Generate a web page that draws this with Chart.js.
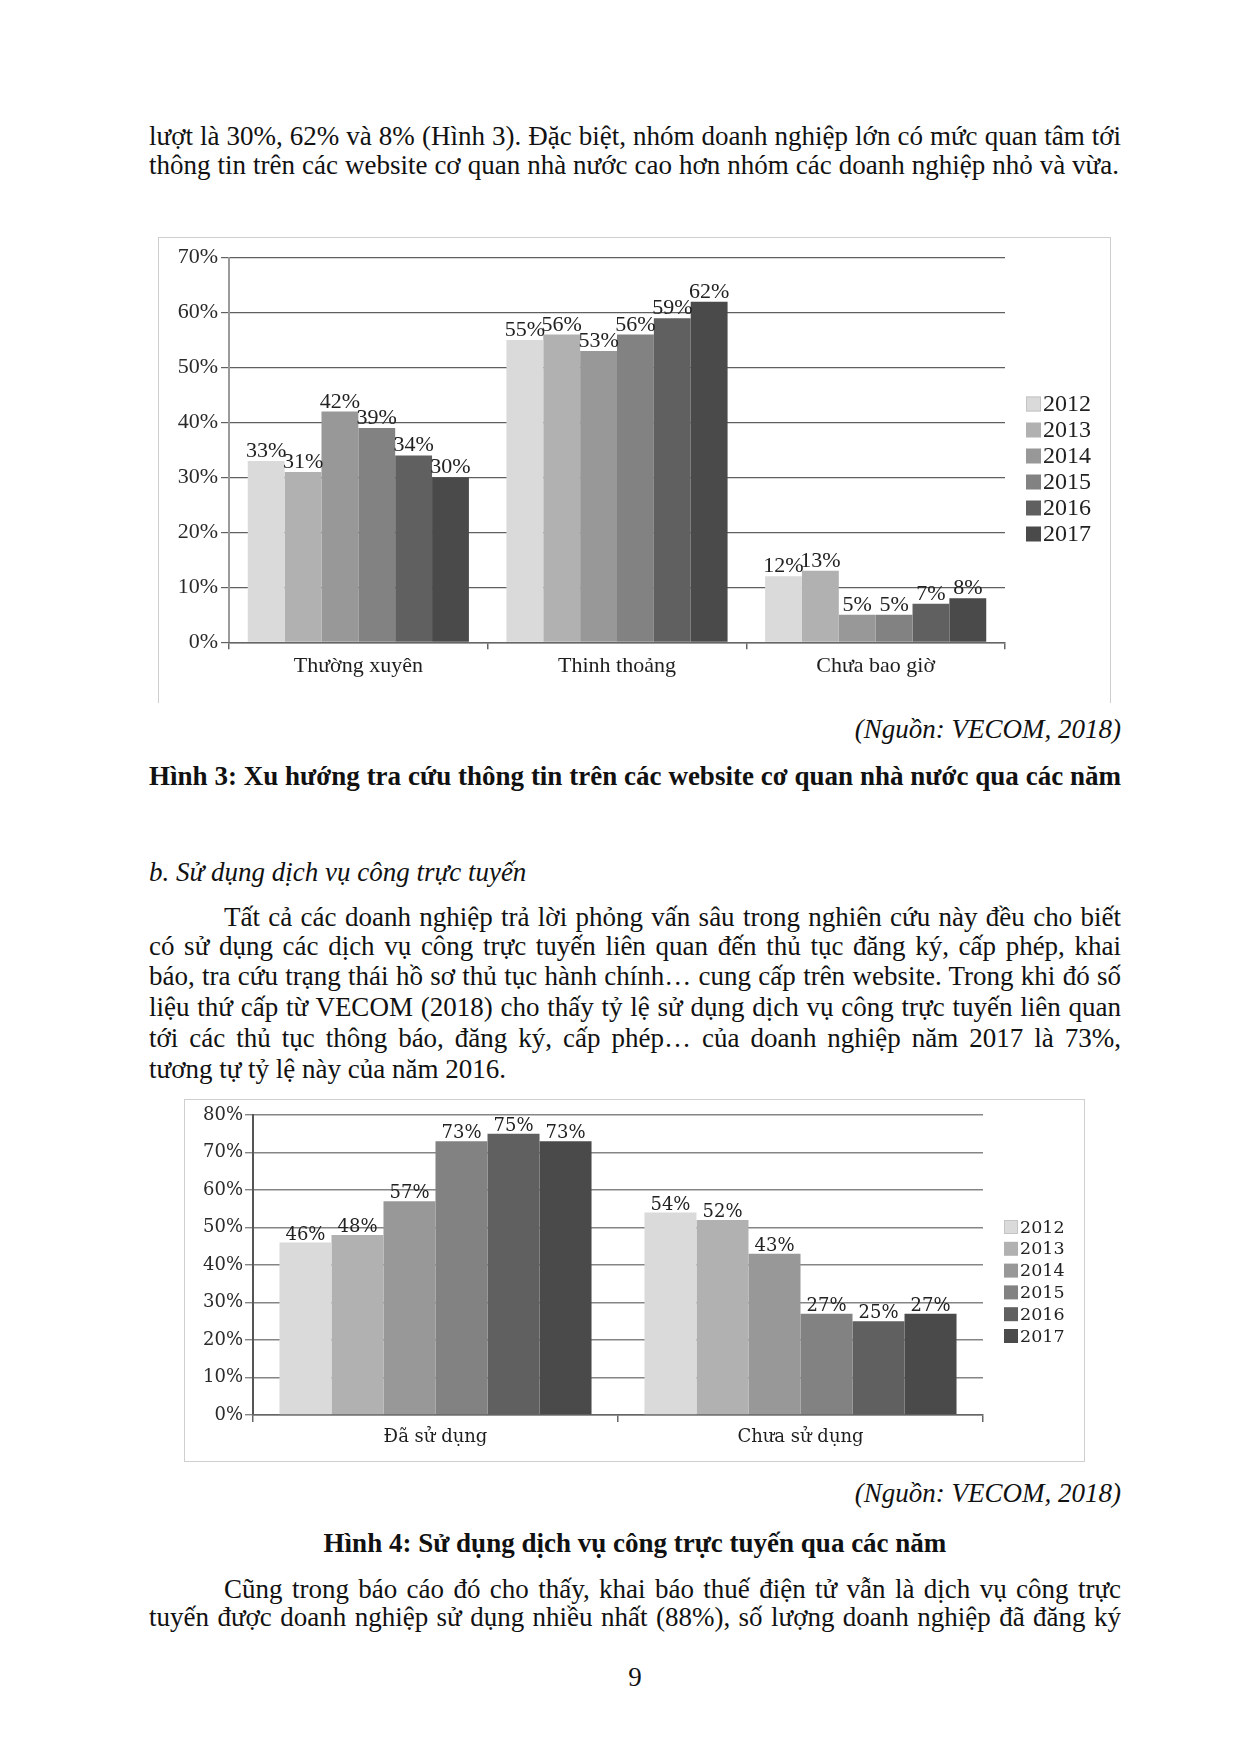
<!DOCTYPE html>
<html><head><meta charset="utf-8">
<script src="https://cdn.jsdelivr.net/npm/chart.js@4.4.0/dist/chart.umd.min.js"></script>
<style>
html,body{margin:0;padding:0;background:#fff;}
body{width:1240px;height:1753px;position:relative;overflow:hidden;font-family:"Liberation Serif","Times New Roman",serif;color:#111;}
.ln{position:absolute;height:32px;line-height:32px;font-size:27px;overflow:hidden;white-space:normal;}
.j{text-align:justify;text-align-last:justify;}
.frame{position:absolute;box-sizing:border-box;}
.cw{position:absolute;}
</style>
</head><body>

<div class="ln j" style="left:149px;width:972px;top:120px;">lượt là 30%, 62% và 8% (Hình 3). Đặc biệt, nhóm doanh nghiệp lớn có mức quan tâm tới</div>
<div class="ln j" style="left:149px;width:970px;top:149px;">thông tin trên các website cơ quan nhà nước cao hơn nhóm các doanh nghiệp nhỏ và vừa.</div>

<div class="frame" style="left:158px;top:237px;width:953px;height:466px;border:1.5px solid #cfcfcf;border-bottom:none;"></div>
<div class="cw" style="left:158px;top:237px;width:953px;height:463px;"><canvas id="c1"></canvas></div>

<div class="ln" style="right:119px;top:713px;font-style:italic;">(Nguồn: VECOM, 2018)</div>
<div class="ln j" style="left:149px;width:972px;top:760px;font-weight:bold;">Hình 3: Xu hướng tra cứu thông tin trên các website cơ quan nhà nước qua các năm</div>

<div class="ln" style="left:149px;top:856px;font-style:italic;">b. Sử dụng dịch vụ công trực tuyến</div>
<div class="ln j" style="left:224px;width:897px;top:901px;">Tất cả các doanh nghiệp trả lời phỏng vấn sâu trong nghiên cứu này đều cho biết</div>
<div class="ln j" style="left:149px;width:972px;top:930px;">có sử dụng các dịch vụ công trực tuyến liên quan đến thủ tục đăng ký, cấp phép, khai</div>
<div class="ln j" style="left:149px;width:972px;top:960px;">báo, tra cứu trạng thái hồ sơ thủ tục hành chính… cung cấp trên website. Trong khi đó số</div>
<div class="ln j" style="left:149px;width:972px;top:991px;">liệu thứ cấp từ VECOM (2018) cho thấy tỷ lệ sử dụng dịch vụ công trực tuyến liên quan</div>
<div class="ln j" style="left:149px;width:972px;top:1022px;">tới các thủ tục thông báo, đăng ký, cấp phép… của doanh nghiệp năm 2017 là 73%,</div>
<div class="ln" style="left:149px;top:1053px;">tương tự tỷ lệ này của năm 2016.</div>

<div class="frame" style="left:184px;top:1099px;width:901px;height:363px;border:1.5px solid #cfcfcf;"></div>
<div class="cw" style="left:184px;top:1099px;width:901px;height:362px;"><canvas id="c2"></canvas></div>

<div class="ln" style="right:119px;top:1477px;font-style:italic;">(Nguồn: VECOM, 2018)</div>
<div class="ln" style="left:149px;width:972px;top:1527px;font-weight:bold;text-align:center;">Hình 4: Sử dụng dịch vụ công trực tuyến qua các năm</div>
<div class="ln j" style="left:224px;width:897px;top:1573px;">Cũng trong báo cáo đó cho thấy, khai báo thuế điện tử vẫn là dịch vụ công trực</div>
<div class="ln j" style="left:149px;width:972px;top:1601px;">tuyến được doanh nghiệp sử dụng nhiều nhất (88%), số lượng doanh nghiệp đã đăng ký</div>
<div class="ln" style="left:149px;width:972px;top:1661px;text-align:center;">9</div>

<script>
// ---------- Data ----------
const years = ['2012', '2013', '2014', '2015', '2016', '2017'];
const barColors = ['#dadada', '#b1b1b1', '#989898', '#828282', '#606060', '#4a4a4a'];

// Figure 3
const categories1 = ['Thường xuyên', 'Thinh thoảng', 'Chưa bao giờ'];
const fig3_2012 = [33, 55, 12];
const fig3_2013 = [31, 56, 13];
const fig3_2014 = [42, 53, 5];
const fig3_2015 = [39, 56, 5];
const fig3_2016 = [34, 59, 7];
const fig3_2017 = [30, 62, 8];
const yTicks1 = [0, 10, 20, 30, 40, 50, 60, 70];

// Figure 4
const categories2 = ['Đã sử dụng', 'Chưa sử dụng'];
const fig4_2012 = [46, 54];
const fig4_2013 = [48, 52];
const fig4_2014 = [57, 43];
const fig4_2015 = [73, 27];
const fig4_2016 = [75, 25];
const fig4_2017 = [73, 27];
const yTicks2 = [0, 10, 20, 30, 40, 50, 60, 70, 80];

const fig3Series = [fig3_2012, fig3_2013, fig3_2014, fig3_2015, fig3_2016, fig3_2017];
const fig4Series = [fig4_2012, fig4_2013, fig4_2014, fig4_2015, fig4_2016, fig4_2017];

// ---------- Plugins ----------
const valLabels = {
  id: 'valLabels',
  afterDatasetsDraw(chart, args, opts) {
    const ctx = chart.ctx;
    ctx.save();
    ctx.font = opts.font;
    ctx.fillStyle = opts.color || '#222';
    ctx.textAlign = 'center';
    ctx.textBaseline = 'alphabetic';
    chart.data.datasets.forEach((ds, di) => {
      const meta = chart.getDatasetMeta(di);
      meta.data.forEach((el, i) => {
        ctx.fillText(ds.data[i] + '%', el.x, el.y - opts.offset);
      });
    });
    ctx.restore();
  }
};
const sideLegend = {
  id: 'sideLegend',
  afterDraw(chart, args, opts) {
    const ctx = chart.ctx;
    const ca = chart.chartArea;
    ctx.save();
    ctx.font = opts.font;
    ctx.textBaseline = 'middle';
    ctx.textAlign = 'left';
    chart.data.datasets.forEach((ds, i) => {
      const cy = opts.y0 + i * opts.gap;
      const bx = ca.right + opts.dx;
      ctx.fillStyle = ds.backgroundColor;
      ctx.fillRect(bx, cy - opts.box / 2, opts.box, opts.box);
      if (i === 0) {
        ctx.strokeStyle = '#c4c4c4';
        ctx.lineWidth = 1;
        ctx.strokeRect(bx + 0.5, cy - opts.box / 2 + 0.5, opts.box - 1, opts.box - 1);
      }
      ctx.fillStyle = '#222';
      ctx.fillText(ds.label, bx + opts.textDx, cy + 1);
    });
    ctx.restore();
  }
};

function makeChart(id, cats, series, yt, cfg) {
  const datasets = series.map((s, i) => ({
    label: years[i],
    data: s,
    backgroundColor: barColors[i],
    borderWidth: 0,
    barPercentage: 1.0,
    categoryPercentage: 0.855
  }));
  return new Chart(document.getElementById(id), {
    type: 'bar',
    data: { labels: cats, datasets },
    plugins: [valLabels, sideLegend],
    options: {
      responsive: true,
      maintainAspectRatio: false,
      animation: false,
      events: [],
      layout: { padding: { top: cfg.padTop, right: cfg.padRight, bottom: 0, left: 0 } },
      plugins: {
        legend: { display: false },
        tooltip: { enabled: false },
        valLabels: { font: cfg.labelFont, offset: cfg.labelOffset, color: '#222' },
        sideLegend: cfg.legend
      },
      scales: {
        y: {
          min: yt[0], max: yt[yt.length - 1],
          afterBuildTicks: (s) => { s.ticks = yt.map(v => ({ value: v })); },
          afterFit: (s) => { s.width = cfg.yWidth; },
          ticks: {
            callback: (v) => v + '%',
            font: { family: cfg.family, size: cfg.tickSize },
            color: '#2a2a2a',
            padding: cfg.tickPad
          },
          grid: { color: cfg.gridColor, lineWidth: cfg.gridWidth, tickLength: 8, drawTicks: true },
          border: { color: cfg.yAxisColor, width: 2 }
        },
        x: {
          afterFit: (s) => { s.height = cfg.xHeight; },
          ticks: {
            font: { family: cfg.family, size: cfg.catSize },
            color: '#1e1e1e',
            padding: cfg.catPad
          },
          grid: { drawOnChartArea: false, drawTicks: true, tickLength: 7, color: '#666', lineWidth: 1.5 },
          border: { color: '#666', width: 1.5 }
        }
      }
    }
  });
}

makeChart('c1', categories1, fig3Series, yTicks1, {
  padTop: 20.7, padRight: 106, yWidth: 71, xHeight: 57.7,
  family: '"Liberation Serif", serif', tickSize: 22, catSize: 22, tickPad: 3, catPad: 4,
  gridColor: '#606060', gridWidth: 1.2, yAxisColor: '#9a9a9a',
  labelFont: '22px "Liberation Serif", serif', labelOffset: 4,
  legend: { dx: 21, y0: 167, gap: 26, box: 15, textDx: 17, font: '24px "Liberation Serif", serif' }
});

makeChart('c2', categories2, fig4Series, yTicks2, {
  padTop: 16, padRight: 102, yWidth: 69, xHeight: 46,
  family: '"DejaVu Serif", serif', tickSize: 18, catSize: 18, tickPad: 2, catPad: 5,
  gridColor: '#858585', gridWidth: 1.4, yAxisColor: '#555',
  labelFont: '18px "DejaVu Serif", serif', labelOffset: 3,
  legend: { dx: 21, y0: 128, gap: 21.8, box: 14, textDx: 16, font: '17.5px "DejaVu Serif", serif' }
});

// fit justified lines on one line
document.querySelectorAll('.ln').forEach(el => {
  let ls = 0;
  while (el.scrollHeight > 36 && ls > -3) { ls -= 0.1; el.style.letterSpacing = ls.toFixed(2) + 'px'; }
});
</script>
</body></html>
